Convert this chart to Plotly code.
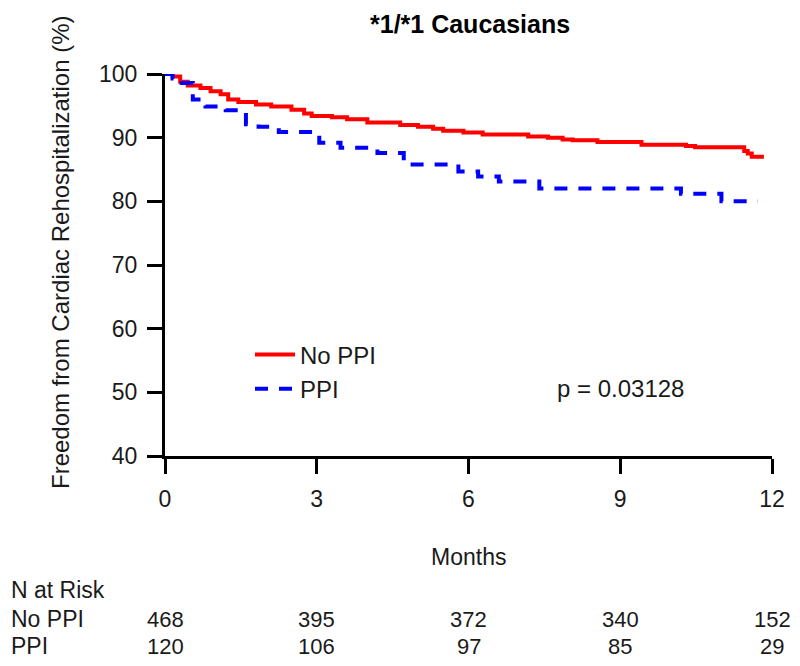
import plotly.graph_objects as go

# ---- data ----
no_ppi_t = [0, 0.15, 0.3, 0.45, 0.7, 0.9, 1.1, 1.25, 1.45, 1.8, 2.1, 2.5, 2.75, 2.9,
            3.3, 3.6, 4.0, 4.65, 5.0, 5.3, 5.5, 5.9, 6.28, 7.18, 7.57, 7.86, 8.06,
            8.55, 9.42, 10.3, 10.48, 11.45, 11.52, 11.6, 11.84]
no_ppi_s = [100, 99.6, 98.8, 98.2, 97.8, 97.3, 96.8, 96.0, 95.6, 95.2, 94.9, 94.4, 93.8, 93.4,
            93.2, 92.9, 92.4, 92.0, 91.7, 91.4, 91.1, 90.8, 90.5, 90.2, 90.0, 89.7, 89.6,
            89.3, 88.9, 88.7, 88.5, 87.9, 87.5, 87.0, 87.0]

ppi_t = [0, 0.15, 0.33, 0.55, 0.8, 1.2, 1.6, 1.85, 2.25, 3.05, 3.47, 4.2, 4.72, 4.8,
         5.8, 6.19, 6.6, 7.4, 10.2, 11.0, 11.72]
ppi_s = [100, 99.3, 98.6, 96.0, 94.9, 94.3, 92.1, 91.7, 90.9, 89.2, 88.4, 87.6, 86.0, 85.8,
         84.7, 83.9, 83.1, 82.0, 81.2, 80.0, 80.0]

x_ticks = [0, 3, 6, 9, 12]
y_ticks = [40, 50, 60, 70, 80, 90, 100]
risk_no_ppi = [468, 395, 372, 340, 152]
risk_ppi = [120, 106, 97, 85, 29]

FONT = "Liberation Sans, Arial, sans-serif"
FS = 22

fig = go.Figure()
fig.add_trace(go.Scatter(x=no_ppi_t, y=no_ppi_s, mode="lines", name="No PPI",
                         line=dict(color="#ff0000", width=4, shape="hv")))
fig.add_trace(go.Scatter(x=ppi_t, y=ppi_s, mode="lines", name="PPI",
                         line=dict(color="#0000ff", width=4, shape="hv", dash="13px,11px")))

# page has an 8px body margin on every side: keep the figure inside the 800x666 window
OFF = 8
W, H = 800 - 2 * OFF, 666 - 2 * OFF
PLOT_L, PLOT_R, PLOT_T, PLOT_B = 165, 772, 74, 456   # page pixels of the plot area
L, T = PLOT_L - OFF, PLOT_T - OFF
R = W - (PLOT_R - OFF)
B = H - (PLOT_B - OFF)
pw, ph = W - L - R, H - T - B

def px(xpage):
    return (xpage - OFF - L) / pw

def py(ypage):
    return (H - B - (ypage - OFF)) / ph

fig.update_layout(
    width=W, height=H, autosize=False,
    margin=dict(l=L, r=R, t=T, b=B, pad=0, autoexpand=False),
    paper_bgcolor="white", plot_bgcolor="white",
    font=dict(family=FONT, size=FS, color="#1a1a1a"),
    showlegend=True,
    legend=dict(x=px(250), y=py(372), xanchor="left", yanchor="middle",
                font=dict(size=24, color="#1a1a1a"), bgcolor="rgba(0,0,0,0)",
                itemwidth=40, tracegroupgap=0),
)
fig.update_xaxes(range=[0, 12], tickvals=x_ticks, ticktext=[str(v) for v in x_ticks],
                 automargin=False,
                 showgrid=False, zeroline=False, showline=True, linecolor="black", linewidth=3,
                 ticks="outside", ticklen=15, tickwidth=3, tickcolor="black",
                 ticklabelstandoff=5, tickfont=dict(size=23))
fig.update_yaxes(range=[40, 100], tickvals=y_ticks, ticktext=[str(v) for v in y_ticks],
                 automargin=False,
                 showgrid=False, zeroline=False, showline=True, linecolor="black", linewidth=3,
                 ticks="outside", ticklen=15, tickwidth=3, tickcolor="black",
                 ticklabelstandoff=5, tickfont=dict(size=23))

ann = []
ann.append(dict(text="<b>*1/*1 Caucasians</b>", x=px(470), y=py(24), xref="paper", yref="paper",
                showarrow=False, font=dict(size=25, color="black"), xanchor="center", yanchor="middle"))
ann.append(dict(text="Freedom from Cardiac Rehospitalization (%)", x=px(60), y=py(252),
                xref="paper", yref="paper", showarrow=False, textangle=-90,
                font=dict(size=24), xanchor="center", yanchor="middle"))
ann.append(dict(text="p = 0.03128", x=px(620), y=py(388), xref="paper", yref="paper",
                showarrow=False, font=dict(size=24), xanchor="center", yanchor="middle"))
ann.append(dict(text="Months", x=6, y=py(557), xref="x", yref="paper",
                showarrow=False, font=dict(size=23), xanchor="center", yanchor="middle"))
ann.append(dict(text="N at Risk", x=px(9), y=py(590), xref="paper", yref="paper",
                showarrow=False, font=dict(size=23), xanchor="left", yanchor="middle"))
ann.append(dict(text="No PPI", x=px(9), y=py(619), xref="paper", yref="paper",
                showarrow=False, font=dict(size=23), xanchor="left", yanchor="middle"))
ann.append(dict(text="PPI", x=px(9), y=py(646), xref="paper", yref="paper",
                showarrow=False, font=dict(size=23), xanchor="left", yanchor="middle"))
for xv, n1, n2 in zip(x_ticks, risk_no_ppi, risk_ppi):
    ann.append(dict(text=str(n1), x=xv, y=py(619), xref="x", yref="paper", showarrow=False,
                    font=dict(size=FS), xanchor="center", yanchor="middle"))
    ann.append(dict(text=str(n2), x=xv, y=py(646), xref="x", yref="paper", showarrow=False,
                    font=dict(size=FS), xanchor="center", yanchor="middle"))
fig.update_layout(annotations=ann)

fig.write_html("out.html")
